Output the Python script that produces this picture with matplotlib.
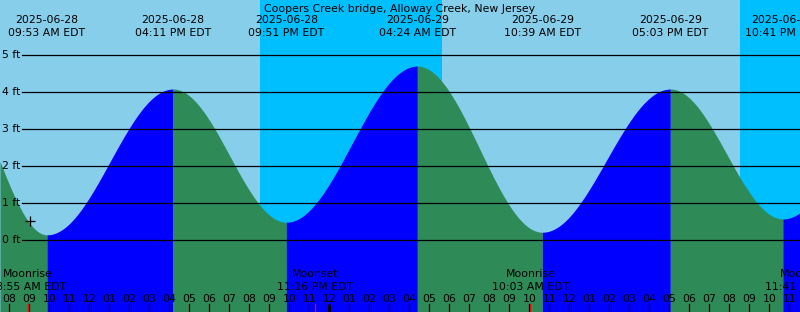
import numpy as np
import matplotlib
matplotlib.use("Agg")
import matplotlib.pyplot as plt
from matplotlib.transforms import blended_transform_factory

# hours since 2025-06-28 00:00 EDT
titulo = "Coopers Creek bridge, Alloway Creek, New Jersey"

# tide extremes (first and last ones are off the chart, needed for the edges)
marea_horas = [4.83, 9.883, 16.183, 21.85, 28.4, 34.65, 41.05, 46.683, 53.2]
marea_pies = [4.6, 0.14, 4.08, 0.48, 4.70, 0.21, 4.08, 0.57, 4.6]
marea_fechas = ["2025-06-28", "2025-06-28", "2025-06-28", "2025-06-29",
                "2025-06-29", "2025-06-29", "2025-06-29"]
marea_textos = ["09:53 AM EDT", "04:11 PM EDT", "09:51 PM EDT", "04:24 AM EDT",
                "10:39 AM EDT", "05:03 PM EDT", "10:41 PM EDT"]

# night periods (sunset -> sunrise)
noche_inicio = [20.535, 44.535]
noche_fin = [29.635, 60.0]

# moon events
luna_horas = [8.917, 23.267, 34.05, 47.683]
luna_nombres = ["Moonrise", "Moonset", "Moonrise", "Moonset"]
luna_textos = ["08:55 AM EDT", "11:16 PM EDT", "10:03 AM EDT", "11:41 PM EDT"]

medianoche = [24.0]
cruz_hora, cruz_pies = 9.035, 0.52

ANCHO, ALTO = 800, 312
PX_HORA = 20.0
X10 = 49.3          # pixel of 10:00 AM 6/28
PX_PIE = 37.0
Y0 = 240.0          # pixel of 0 ft

def hora_px(px):
    return 10 + (px - X10) / PX_HORA

def pie_px(py):
    return (Y0 - py) / PX_PIE

xmin, xmax = hora_px(0), hora_px(ANCHO)
ymin, ymax = pie_px(ALTO), pie_px(0)

CIELO = "#87CEEB"
NOCHE = "#00BFFF"
SUBE = "#0000FF"
BAJA = "#2E8B57"
FS = 7.8

fig = plt.figure(figsize=(ANCHO / 100, ALTO / 100), dpi=100)
ax = fig.add_axes([0, 0, 1, 1])
ax.set_xlim(xmin, xmax)
ax.set_ylim(ymin, ymax)
ax.axis("off")
ax.add_patch(plt.Rectangle((xmin, ymin), xmax - xmin, ymax - ymin, color=CIELO, zorder=0))

for a, b in zip(noche_inicio, noche_fin):
    ax.axvspan(a, b, color=NOCHE, lw=0, zorder=1)

# tide curve, segment by segment
for i in range(len(marea_horas) - 1):
    t0, t1 = marea_horas[i], marea_horas[i + 1]
    h0, h1 = marea_pies[i], marea_pies[i + 1]
    a, b = max(t0, xmin), min(t1, xmax)
    if a >= b:
        continue
    t = np.linspace(a, b, 200)
    f = (t - t0) / (t1 - t0)
    h = h0 + (h1 - h0) * (1 - np.cos(np.pi * f)) / 2
    color = SUBE if h1 > h0 else BAJA
    ax.fill_between(t, ymin, h, color=color, lw=0, zorder=2)

# level lines
for nivel in range(6):
    ax.plot([hora_px(22), xmax], [nivel, nivel], color="black", lw=0.9, zorder=3)

ty = blended_transform_factory(ax.transAxes, ax.transData)
for nivel in range(6):
    ax.text(2 / ANCHO, nivel, f"{nivel} ft", transform=ty, fontsize=FS,
            va="center", ha="left", zorder=4)

tx = blended_transform_factory(ax.transData, ax.transAxes)

def fila(py):
    return 1 - py / ALTO

ax.text(0.5, fila(11.7), titulo, transform=ax.transAxes, fontsize=FS,
        ha="center", va="baseline", zorder=5)
for t, fecha, texto in zip(marea_horas[1:-1], marea_fechas, marea_textos):
    ax.text(t, fila(23.3), fecha, transform=tx, fontsize=FS, ha="center", va="baseline", zorder=5)
    ax.text(t, fila(35.7), texto, transform=tx, fontsize=FS, ha="center", va="baseline", zorder=5)

# hour ticks and labels
for hora in range(int(np.ceil(xmin)), int(np.floor(xmax)) + 1):
    h12 = hora % 12
    etiqueta = f"{(h12 if h12 else 12):02d}"
    ax.text(hora, fila(302), etiqueta, transform=tx, fontsize=FS, ha="center",
            va="baseline", zorder=5)
    if hora not in medianoche:
        ax.plot([hora, hora], [fila(304), 0], transform=tx, color="black", lw=0.9, zorder=4)

for t in medianoche:
    ax.plot([t, t], [fila(304), 0], transform=tx, color="black", lw=2.2,
            solid_capstyle="butt", zorder=4)

for t, nombre, texto in zip(luna_horas, luna_nombres, luna_textos):
    ax.plot([t, t], [fila(304), 0], transform=tx, color="red", lw=0.9, zorder=4)
    ax.text(t, fila(277.3), nombre, transform=tx, fontsize=FS, ha="center", va="baseline", zorder=5)
    ax.text(t, fila(290), texto, transform=tx, fontsize=FS, ha="center", va="baseline", zorder=5)

ax.plot([cruz_hora], [cruz_pies], marker="+", color="black", markersize=7,
        markeredgewidth=0.9, zorder=5)

fig.savefig("out.png", dpi=100)
